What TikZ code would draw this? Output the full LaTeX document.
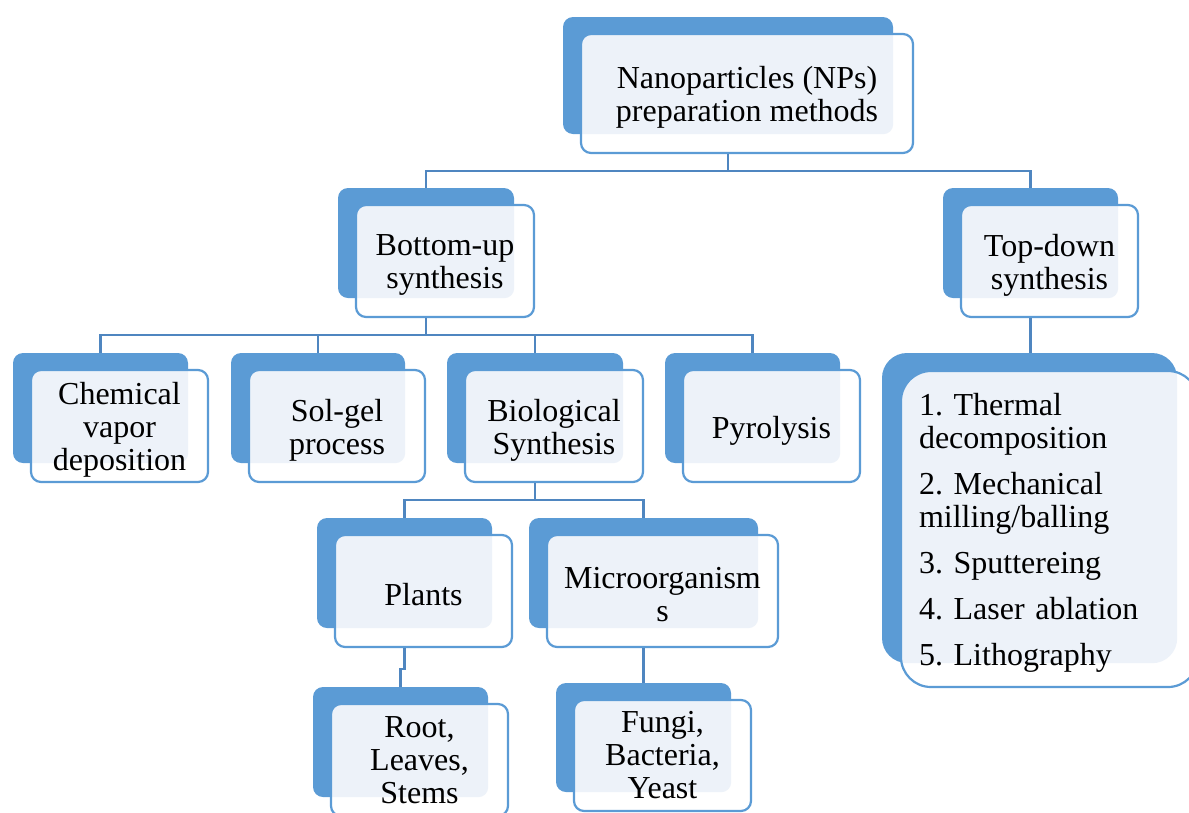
\documentclass[tikz,border=0pt]{standalone}
\usepackage{fontspec}
\setmainfont{Liberation Serif}
\usetikzlibrary{calc}
\definecolor{backc}{HTML}{5B9BD5}
\definecolor{outl}{HTML}{5B9BD5}
\definecolor{lightc}{HTML}{EDF2F9}
\definecolor{connc}{HTML}{4F86C0}
\newcommand\fs{\fontsize{32}{33}\selectfont\frenchspacing}
\tikzset{
  backbox/.style={fill=backc, draw=none, rounded corners=10pt, inner sep=0pt},
  frontbox/.style={draw=outl, fill=white, line width=2.2pt, rounded corners=10pt, inner sep=0pt,
    path picture={\clip[rounded corners=10pt] (#1.south west) rectangle (#1.north east);
      \fill[lightc] (path picture bounding box.south west) rectangle (path picture bounding box.north east);}},
  txt/.style={align=center, inner sep=0pt, font=\fs, text=black},
  conn/.style={draw=connc, line width=2.5pt},
}
% #1 text shift, #2 name, #3 #4 back centre, #5 #6 back size, #7 text
\newcommand\card[7][4]{%
  \node[backbox, minimum width=#5pt, minimum height=#6pt] (#2-b) at (#3,#4) {};
  \node[frontbox=#2-b, minimum width=#5pt+2pt, minimum height=#6pt+2pt] (#2) at ($(#2-b.center)+(19,18)$) {};
  \node[txt] (#2-t) at ($(#2.center)+(0,#1)$) {#7};
}
\begin{document}
\begin{tikzpicture}[x=1pt,y=-1pt]
\useasboundingbox (0,0) rectangle (1189,812);
\clip (0,0) rectangle (1189,812);

\card{top}{728}{75.5}{330}{117}{Nanoparticles (NPs)\\preparation methods}
\card{bu}{426}{243}{176}{110}{Bottom-up\\synthesis}
\card{td}{1030.5}{243}{175}{110}{Top-down\\synthesis}
\card{cvd}{100.5}{408}{175}{110}{Chemical\\vapor\\deposition}
\card{sg}{318}{408}{174}{110}{Sol-gel\\process}
\card{bio}{535}{408}{176}{110}{Biological\\Synthesis}
\card[5]{pyr}{752.5}{408}{175}{110}{Pyrolysis}
\card{pl}{404.5}{573}{175}{110}{Plants}
\card{mic}{643.5}{573}{229}{110}{Microorganism\\s}
\card[0]{root}{400.5}{742}{175}{110}{Root,\\Leaves,\\Stems}
\card[0]{fungi}{643.5}{737.5}{175}{109}{Fungi,\\Bacteria,\\Yeast}

% list box
\node[backbox, rounded corners=25pt, minimum width=295pt, minimum height=310pt] (list-b) at (1029.5,508) {};
\node[draw=outl, fill=white, line width=2.2pt, rounded corners=30pt, inner sep=0pt,
  minimum width=297pt, minimum height=316pt,
  path picture={\clip[rounded corners=25pt] (list-b.south west) rectangle (list-b.north east);
    \fill[lightc] (path picture bounding box.south west) rectangle (path picture bounding box.north east);}]
  (list) at (1049.5,529) {};
\node[txt, align=left, text width=261pt] (list-t) at ($(list.center)+(0,4)$)
  {1. Thermal\\decomposition\\[13pt]2. Mechanical\\milling/balling\\[13pt]3. Sputtereing\\[13pt]4. Laser ablation\\[13pt]5. Lithography};

% connectors
\coordinate (j1) at (728,171);
\coordinate (j2) at (426,335);
\coordinate (j3) at (535,500);
\draw[conn] (top-b |- top.south) -- (j1);
\draw[conn] (j1) -| (bu-b.north);
\draw[conn] (j1) -| (td-b.north);
\draw[conn] (bu-b |- bu.south) -- (j2);
\draw[conn] (j2) -| (cvd-b.north);
\draw[conn] (j2) -| (sg-b.north);
\draw[conn] (j2) -| (bio-b.north);
\draw[conn] (j2) -| (pyr-b.north);
\draw[conn] (bio-b |- bio.south) -- (j3);
\draw[conn] (j3) -| (pl-b.north);
\draw[conn] (j3) -| (mic-b.north);
\draw[conn] (pl-b |- pl.south) -- ++(0,21) -| (root-b.north);
\draw[conn] (mic-b |- mic.south) -- (fungi-b.north);
\draw[conn] (td-b |- td.south) -- (td-b |- list-b.north);
\end{tikzpicture}
\end{document}
